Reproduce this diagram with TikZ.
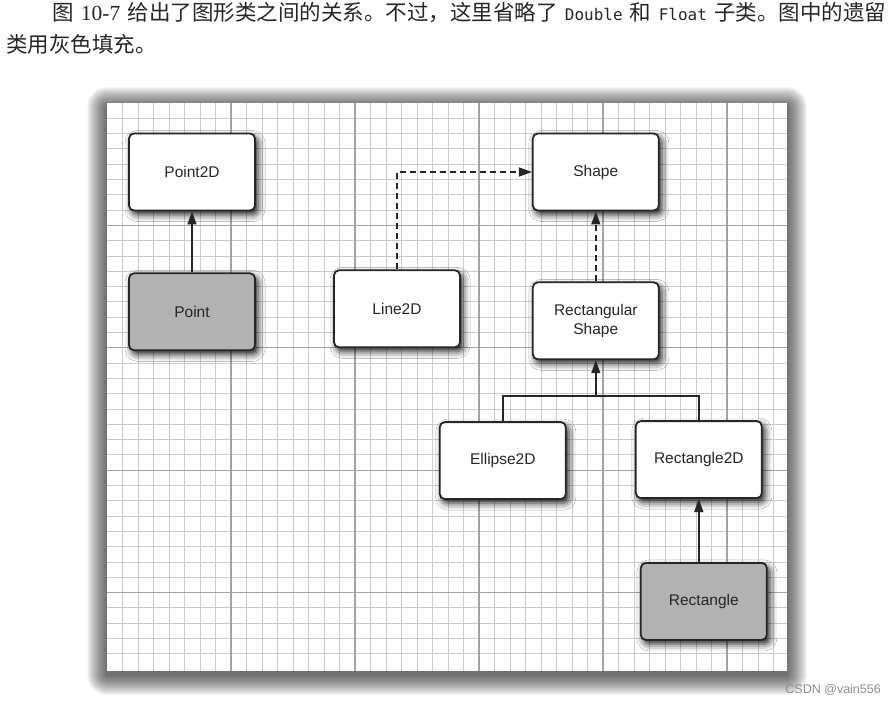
\documentclass[tikz,border=0pt]{standalone}
\usepackage{fontspec}
\setmainfont{Liberation Serif}
\setsansfont{Liberation Sans}
\setmonofont{DejaVu Sans Mono}
\newfontfamily\cjk{Noto Sans CJK SC}
\usetikzlibrary{arrows.meta,positioning,shadows.blur}
\newcommand{\codeword}[1]{{\ttfamily\fontsize{16}{18}\selectfont #1}}

\begin{document}
\begin{tikzpicture}[x=1pt,y=-1pt,
    classbox/.style={rectangle,rounded corners=5pt,draw=black!85,line width=1.8pt,fill=white,
      minimum width=126pt,minimum height=77pt,align=center,text=black!85,
      font=\sffamily\fontsize{15.5}{19}\selectfont,
      blur shadow={shadow xshift=3pt,shadow yshift=-4pt,shadow blur radius=7pt,shadow opacity=90}},
    legacybox/.style={classbox,fill=black!30},
    arrow/.style={-{Triangle[length=13pt,width=9pt]},line width=1.5pt,draw=black!85},
    dasharrow/.style={arrow,dash pattern=on 6pt off 4pt},
    link/.style={line width=1.5pt,draw=black!85},
    gridminor/.style={line width=0.9pt,draw=black!20},
    gridmajor/.style={line width=1.3pt,draw=black!36}]
    \useasboundingbox (0,0) rectangle (895,702);
    % caption text above the figure
    \node[anchor=base west,inner sep=0pt,text=black!85,font=\cjk\fontsize{21.5}{26}\selectfont] (line1) at (52,20)
        {\makebox[834pt][s]{图 {\rmfamily 10-7} 给出了图形类之间的关系。不过，这里省略了 \codeword{Double} 和 \codeword{Float} 子类。图中的遗留}};
    \node[anchor=base west,inner sep=0pt,text=black!85,font=\cjk\fontsize{21.5}{26}\selectfont] (line2) at (6,52)
        {类用灰色填充。};
    % soft shadow round the grid paper
    \foreach \k in {1,...,20}
        \path[fill=black,fill opacity=0.04,rounded corners=\k pt]
            ({107-\k},{103-\k+4}) rectangle ({787+\k},{671+\k+4});
    % grid paper
    \path[fill=white] (107,103) rectangle (787,671);
    \foreach \i in {1,...,43}
        \draw[gridminor] ({107+15.5*\i},103) -- ++(0,568);
    \foreach \j in {1,...,36}
        \draw[gridminor] (107,{103+15.3*\j}) -- ++(680,0);
    \foreach \i in {1,...,5}
        \draw[gridmajor] ({107+124*\i},103) -- ++(0,568);
    \foreach \j in {1,...,4}
        \draw[gridmajor] (107,{103+122.4*\j}) -- ++(680,0);
    % classes
    \node[classbox] (point2d) at (192,172) {Point2D};
    \node[legacybox,below=61pt of point2d] (point) {Point};
    \node[classbox,right=276pt of point2d] (shape) {Shape};
    \node[classbox,below=70pt of shape] (rectshape) {Rectangular\\Shape};
    \node[classbox,left=71pt of rectshape,yshift=12pt] (line2d) {Line2D};
    \node[classbox,below=61pt of rectshape,xshift=-93pt] (ellipse) {Ellipse2D};
    \node[classbox,below=60pt of rectshape,xshift=103pt] (rect2d) {Rectangle2D};
    \node[legacybox,below=63pt of rect2d,xshift=5pt] (rect) {Rectangle};
    \coordinate[below=36pt of rectshape.south] (fork);
    % relations
    \draw[arrow] (point) -- (point2d);
    \draw[dasharrow] (line2d.north) |- (shape.west);
    \draw[dasharrow] (rectshape) -- (shape);
    \draw[link] (ellipse.north) |- (fork) -| (rect2d.north);
    \draw[arrow] (fork) -- (rectshape);
    \draw[arrow] (rect.north -| rect2d.south) -- (rect2d.south);
    % watermark
    \node[anchor=base east,inner sep=0pt,text=black!45,font=\sffamily\fontsize{12.5}{15}\selectfont] (mark) at (881,693)
        {CSDN @vain556};
\end{tikzpicture}
\end{document}
